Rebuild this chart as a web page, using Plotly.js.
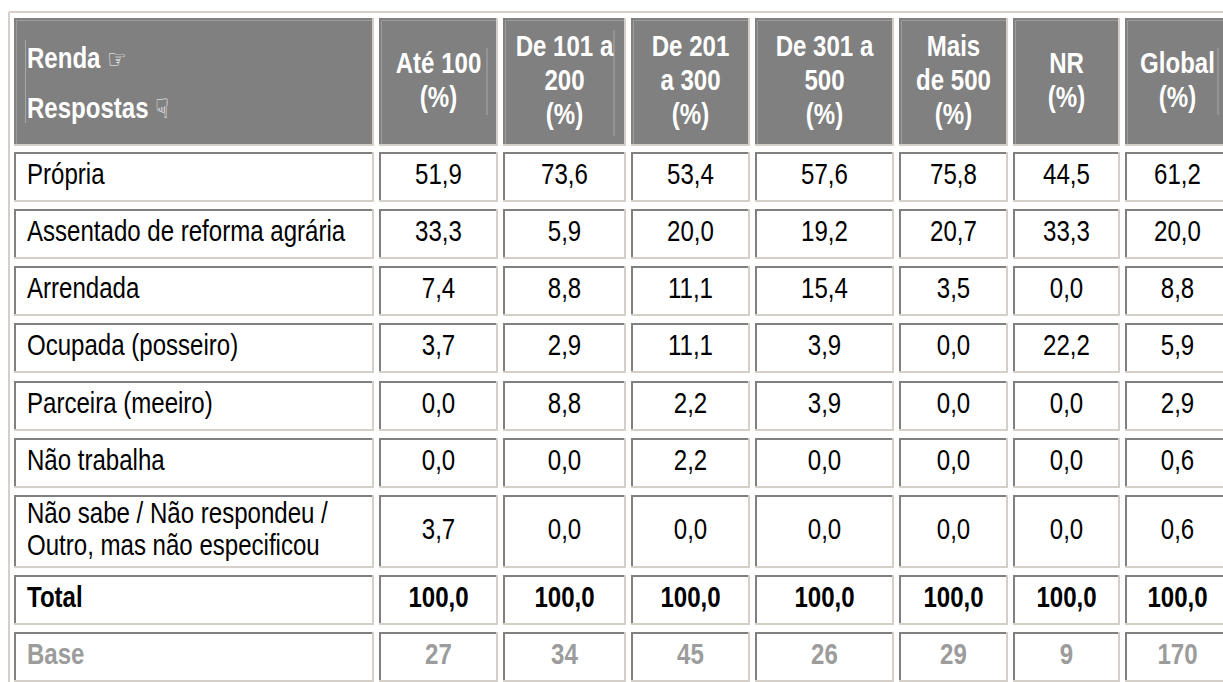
<!DOCTYPE html>
<html>
<head>
<meta charset="utf-8">
<script src="https://cdn.plot.ly/plotly-3.0.1.min.js"></script>
<style>html,body{margin:0;padding:0;background:#fff;overflow:hidden}#chart{width:1223px;height:682px}</style>
</head>
<body>
<div id="chart"></div>
<script>
// ---------- data ----------
var stubHeader = ["Renda ☞", "Respostas ☟"];
var colHeaders = ["Até 100<br>(%)", "De 101 a<br>200<br>(%)", "De 201<br>a 300<br>(%)", "De 301 a<br>500<br>(%)", "Mais<br>de 500<br>(%)", "NR<br>(%)", "Global<br>(%)"];
var rowLabels = ["Própria", "Assentado de reforma agrária", "Arrendada", "Ocupada (posseiro)", "Parceira (meeiro)", "Não trabalha", "Não sabe / Não respondeu /<br>Outro, mas não especificou", "Total"];
var baseLabel = "Base";
var ate100  = [51.9, 33.3, 7.4, 3.7, 0.0, 0.0, 3.7, 100.0];
var de101   = [73.6, 5.9, 8.8, 2.9, 8.8, 0.0, 0.0, 100.0];
var de201   = [53.4, 20.0, 11.1, 11.1, 2.2, 2.2, 0.0, 100.0];
var de301   = [57.6, 19.2, 15.4, 3.9, 3.9, 0.0, 0.0, 100.0];
var mais500 = [75.8, 20.7, 3.5, 0.0, 0.0, 0.0, 0.0, 100.0];
var nr      = [44.5, 33.3, 0.0, 22.2, 0.0, 0.0, 0.0, 100.0];
var global_ = [61.2, 20.0, 8.8, 5.9, 2.9, 0.6, 0.6, 100.0];
var baseN   = [27, 34, 45, 26, 29, 9, 170];
var series = [ate100, de101, de201, de301, mais500, nr, global_];

// ---------- layout geometry (pixels) ----------
var W = 1223, H = 682;
var colX = [[14,374],[379,498],[503,626],[631,750],[755,894],[899,1008],[1013,1120],[1125,1230]];
var rowY = [[18,146],[152,202],[209,259],[266,316],[323,373],[381,431],[438,488],[495,568],[575,625],[632,682]];
var FONT = "'Liberation Sans', Arial, sans-serif";
var FS = 29, LH = 34, LH2 = 32, CONDENSE = 0.83;
var DARK = "#808080", LIGHT = "#d4d0c8";

function fmt(v){ return v.toFixed(1).replace('.', ','); }
function cx(c){ return (colX[c][0] + colX[c][1]) / 2; }
function cy(r){ return (rowY[r][0] + rowY[r][1]) / 2; }

var shapes = [];
function line(x0,y0,x1,y1,color,w){
  shapes.push({type:'line', xref:'x', yref:'y', x0:x0, y0:y0, x1:x1, y1:y1, line:{color:color, width:w}, layer:'below'});
}
// outer table border
line(9, 12, W + 5, 12, LIGHT, 2);
line(9, 12, 9, H + 5, LIGHT, 2);

for (var r = 0; r < rowY.length; r++) {
  for (var c = 0; c < colX.length; c++) {
    var x0 = colX[c][0], x1 = colX[c][1], y0 = rowY[r][0], y1 = rowY[r][1];
    var header = (r === 0);
    shapes.push({type:'rect', xref:'x', yref:'y', x0:x0, y0:y0, x1:x1, y1:y1,
      fillcolor: header ? "#808080" : "#ffffff", line:{width:0}, layer:'below'});
    line(x0, y1 - 1, x1, y1 - 1, LIGHT, 2);
    line(x1 - 1, y0, x1 - 1, y1, LIGHT, 2);
    line(x0, y0 + 1, x1 - 2, y0 + 1, DARK, 2);
    line(x0 + 1, y0, x0 + 1, y1 - 2, DARK, 2);
    if (header) {
      line(x0 + 2, y0 + 2.5, x1 - 2, y0 + 2.5, "#9c9c9c", 1);
      line(x0 + 2.5, y0 + 2, x0 + 2.5, y1 - 2, "#9c9c9c", 1);
    }
  }
}
// faint vertical artefacts visible in the header of the original
var artefacts = [[25.5, 40, 123], [487, 48, 115], [614, 30, 136], [1218, 48, 115]];
artefacts.forEach(function(a){ line(a[0], a[1], a[0], a[2], "#a8a8a8", 1); });

// ---------- text traces ----------
var traces = [];
function textTrace(xs, ys, texts, color, pos){
  traces.push({type:'scatter', mode:'text', x:xs, y:ys, text:texts, textposition:pos || 'middle center',
    textfont:{family:FONT, size:FS, color:color}, hoverinfo:'skip', showlegend:false, cliponaxis:false});
}
function multiline(str, xc, yc, lh, xs, ys, ts, wrap){
  var parts = str.split('<br>');
  var n = parts.length;
  parts.forEach(function(p, k){
    xs.push(xc); ys.push(yc + (k - (n - 1) / 2) * lh); ts.push(wrap ? wrap(p) : p);
  });
}

// header: stub
var hx = [], hy = [], ht = [];
var stubY = [61, 111];
stubHeader.forEach(function(s, k){
  var parts = s.split(' ');
  var word = parts[0], icon = parts[1];
  var size = k === 0 ? 26 : 27;
  hx.push(colX[0][0] + 13); hy.push(stubY[k]);
  ht.push('<b>' + word + '</b> <span style="font-family:DejaVu Sans;font-size:' + size + 'px">' + icon + '</span>');
});
textTrace(hx, hy, ht, "#ffffff", 'middle right');

// header: columns
var cxs = [], cys = [], cts = [];
colHeaders.forEach(function(h, i){
  multiline(h, cx(i + 1), 83, LH, cxs, cys, cts, function(p){ return '<b>' + p + '</b>'; });
});
textTrace(cxs, cys, cts, "#ffffff");

// row labels
var lx = [], ly = [], lt = [];
rowLabels.forEach(function(lab, i){
  var isTotal = (i === rowLabels.length - 1);
  multiline(lab, colX[0][0] + 13, cy(i + 1), LH2, lx, ly, lt, function(p){ return isTotal ? '<b>' + p + '</b>' : p; });
});
textTrace(lx, ly, lt, "#000000", 'middle right');
textTrace([colX[0][0] + 13], [cy(rowY.length - 1)], ['<b>' + baseLabel + '</b>'], "#9c9c9c", 'middle right');

// values
series.forEach(function(vals, i){
  var xs = [], ys = [], ts = [];
  vals.forEach(function(v, j){
    xs.push(cx(i + 1)); ys.push(cy(j + 1));
    ts.push(j === vals.length - 1 ? '<b>' + fmt(v) + '</b>' : fmt(v));
  });
  textTrace(xs, ys, ts, "#000000");
});
var bx = [], by = [], bt = [];
baseN.forEach(function(n, i){ bx.push(cx(i + 1)); by.push(cy(rowY.length - 1)); bt.push('<b>' + n + '</b>'); });
textTrace(bx, by, bt, "#9c9c9c");

var layout = {
  width: W, height: H,
  margin: {l:0, r:0, t:0, b:0, pad:0},
  paper_bgcolor: '#ffffff', plot_bgcolor: '#ffffff',
  xaxis: {range:[0, W], visible:false, fixedrange:true},
  yaxis: {range:[H, 0], visible:false, fixedrange:true},
  shapes: shapes,
  showlegend: false,
  hovermode: false
};
Plotly.newPlot('chart', traces, layout, {staticPlot:true, displayModeBar:false}).then(function(gd){
  // the original uses a condensed (Arial Narrow-like) face: condense glyphs horizontally around their anchor
  gd.querySelectorAll('.textpoint text').forEach(function(t){
    var x = parseFloat(t.getAttribute('x')) || 0;
    t.setAttribute('transform', 'translate(' + x + ',0) scale(' + CONDENSE + ',1) translate(' + (-x) + ',0)');
  });
});
</script>
</body>
</html>
